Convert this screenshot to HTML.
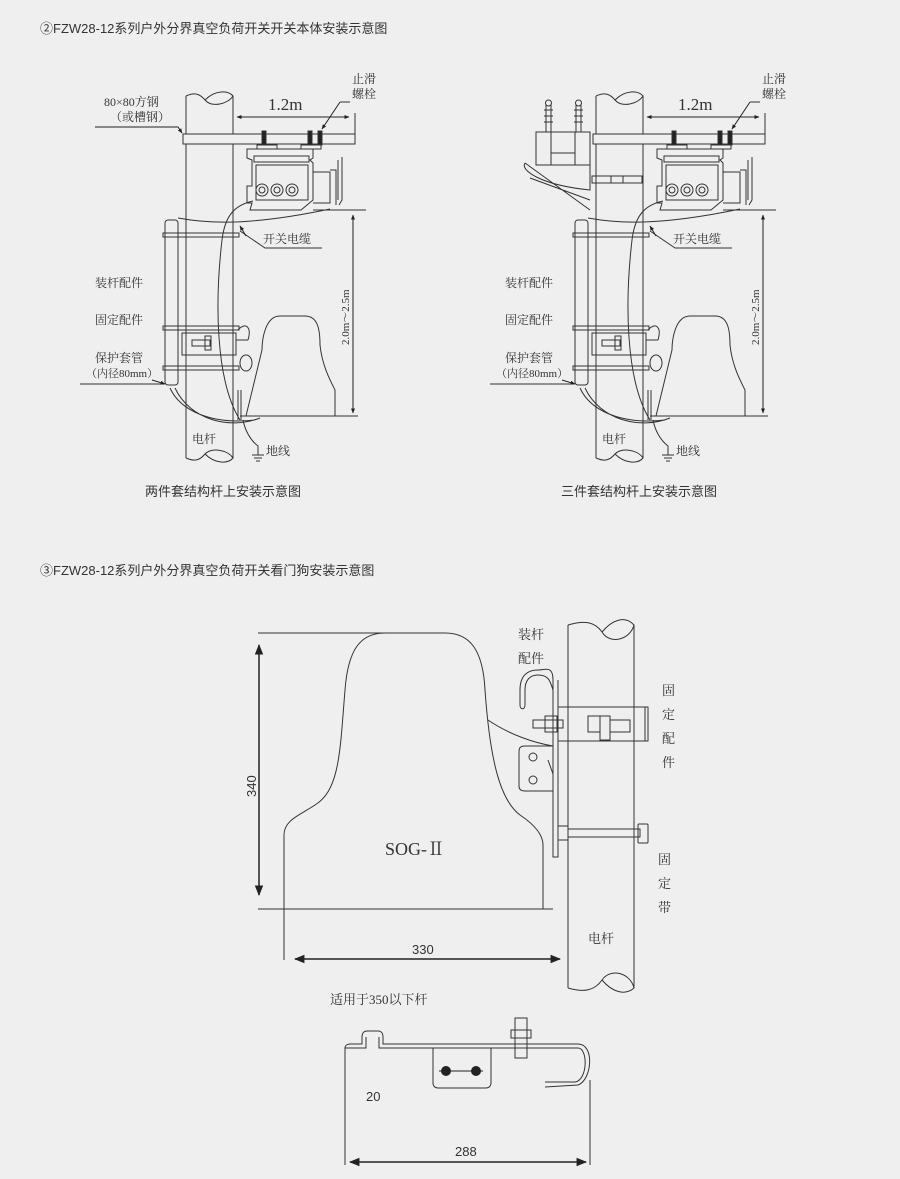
<!DOCTYPE html>
<html><head><meta charset="utf-8"><style>
html,body{margin:0;padding:0;background:#efefef;}
svg{display:block}
text{font-family:"Liberation Serif","Noto Serif CJK SC","Noto Sans CJK SC",serif;fill:#333}
text.s,.s text{font-family:"Liberation Sans","Noto Sans CJK SC",sans-serif}
</style></head><body>
<svg width="900" height="1179" viewBox="0 0 900 1179" xmlns="http://www.w3.org/2000/svg">
<defs>
<marker id="a" viewBox="0 0 10 10" refX="9" refY="5" markerWidth="7" markerHeight="7" orient="auto-start-reverse"><path d="M0,1 L10,5 L0,9z" fill="#222"/></marker>
<marker id="b" viewBox="0 0 10 10" refX="9" refY="5" markerWidth="5" markerHeight="5" orient="auto-start-reverse"><path d="M0,1 L10,5 L0,9z" fill="#222"/></marker>
<g id="unit" fill="none" stroke="#333" stroke-width="1">
  <path d="M186,96 L186,458 M233,96 L233,458"/>
  <path d="M186,96 C195,92 200,94 205,100 C212,108 228,104 233,96 C228,90 215,90 205,100" />
  <path d="M186,458 C195,462 200,460 205,454 C212,447 228,450 233,458 C228,464 215,464 205,454"/>
  <rect x="183" y="134" width="172" height="10" fill="#efefef"/>
  <path d="M237,117 L349,117" stroke="#222" marker-start="url(#b)" marker-end="url(#b)"/>
  <path d="M355,113 L355,134"/>
  <rect x="262" y="131" width="4" height="14" fill="#222"/>
  <rect x="308" y="131" width="4" height="14" fill="#222"/>
  <rect x="318" y="131" width="4" height="14" fill="#222"/>
  <path d="M340,102 L322,129" stroke="#222" marker-end="url(#b)"/>
  <path d="M340,102 L350,102"/>
  <rect x="257" y="145" width="20" height="4"/><rect x="301" y="145" width="20" height="4"/>
  <path d="M247,149 L313,149 L313,158 L310,160 L313,163 L313,200 L301,210 L250,210 L252,203 L247,203 L247,186 L252,186 L252,160 L247,158 Z"/>
  <rect x="254" y="156" width="55" height="6"/>
  <rect x="256" y="165" width="52" height="35"/>
  <circle cx="262" cy="190" r="6"/><circle cx="262" cy="190" r="3"/>
  <circle cx="277" cy="190" r="6"/><circle cx="277" cy="190" r="3"/>
  <circle cx="292" cy="190" r="6"/><circle cx="292" cy="190" r="3"/>
  <path d="M313,172 L330,172 L330,203 L313,203 M330,170 L336,170 L336,205 M338,160 L338,200 M342,157 L342,200 L339,205"/>
  <path d="M313,210 L366,210"/>
  <path d="M353,215 L353,413" stroke="#222" marker-start="url(#b)" marker-end="url(#b)"/>
  <path d="M240,416 L358,416"/>
  <path d="M253,201 C235,205 225,215 222,240 C215,300 215,380 240,420"/>
  <path d="M178,218 C200,222 240,228 330,209"/>
  <path d="M240,231 L265,248 L322,248" />
  <path d="M240,226 L246,236" stroke="#222" marker-start="url(#b)"/>
  <rect x="165" y="220" width="13" height="165" rx="3"/>
  <rect x="163" y="233" width="76" height="4"/>
  <rect x="163" y="326" width="76" height="4"/>
  <rect x="163" y="366" width="76" height="4"/>
  <rect x="182" y="333" width="54" height="22"/>
  <rect x="192" y="340" width="18" height="6"/><rect x="205" y="336" width="6" height="14"/>
  <path d="M236,340 L248,340 M238,330 C245,322 252,326 248,340"/>
  <ellipse cx="246" cy="363" rx="6" ry="8"/>
  <path d="M170,388 C180,410 210,425 255,420 M175,388 C190,420 230,430 260,418"/>
  <path d="M238,390 L238,420 M241,390 L241,420"/>
  <path d="M246,416 L262,350 C262,340 265,316 280,316 L305,316 C318,316 320,330 320,345 C322,365 330,380 335,390 L335,416"/>
  <path d="M243,420 C245,430 250,440 258,446 L258,455 M252,455 L264,455 M254,458 L262,458 M256,461 L260,461"/>
  <path d="M80,384 L164,384" /><path d="M152,380 L165,384" stroke="#222" marker-end="url(#b)"/>
</g>
</defs>

<text x="40" y="33" class="s" font-size="13">②FZW28-12系列户外分界真空负荷开关开关本体安装示意图</text>
<text x="40" y="575" class="s" font-size="13">③FZW28-12系列户外分界真空负荷开关看门狗安装示意图</text>

<use href="#unit"/>
<use href="#unit" transform="translate(410,0)"/>
<path d="M95,127 L178,127 L182,133" stroke="#222" fill="none" marker-end="url(#b)"/>

<g font-size="12">
<text x="104" y="106">80×80方钢</text>
<text x="110" y="121">（或槽钢）</text>
<text x="352" y="83">止滑</text><text x="352" y="98">螺栓</text>
<text x="268" y="110" font-size="17">1.2m</text>
<text x="263" y="243">开关电缆</text>
<text x="95" y="287">装杆配件</text>
<text x="95" y="324">固定配件</text>
<text x="95" y="362">保护套管</text>
<text x="86" y="377" font-size="11">（内径80mm）</text>
<text x="192" y="443">电杆</text>
<text x="266" y="455">地线</text>
<text transform="translate(349,345) rotate(-90)" font-size="11">2.0m～2.5m</text>
</g>
<g font-size="12" transform="translate(410,0)">
<text x="352" y="83">止滑</text><text x="352" y="98">螺栓</text>
<text x="268" y="110" font-size="17">1.2m</text>
<text x="263" y="243">开关电缆</text>
<text x="95" y="287">装杆配件</text>
<text x="95" y="324">固定配件</text>
<text x="95" y="362">保护套管</text>
<text x="86" y="377" font-size="11">（内径80mm）</text>
<text x="192" y="443">电杆</text>
<text x="266" y="455">地线</text>
<text transform="translate(349,345) rotate(-90)" font-size="11">2.0m～2.5m</text>
</g>
<g fill="none" stroke="#333">
<rect x="536" y="132" width="54" height="33" fill="#efefef"/>
<path d="M551,132 L551,165 M575,132 L575,165 M551,153 L575,153"/>
<path d="M546,132 L546,105 M551,132 L551,105 M576,132 L576,105 M581,132 L581,105"/>
<path d="M544,110 h9 M544,116 h9 M544,122 h9 M574,110 h9 M574,116 h9 M574,122 h9"/>
<circle cx="548.5" cy="103" r="3"/><circle cx="578.5" cy="103" r="3"/>
<path d="M525,163 C520,170 540,185 590,190 L590,165 L536,165"/>
<path d="M525,163 L590,210 M530,178 L590,200"/>
<rect x="592" y="176" width="50" height="7"/><rect x="611" y="176" width="12" height="7"/>
</g>

<g font-size="13" class="s">
<text x="145" y="496">两件套结构杆上安装示意图</text>
<text x="561" y="496">三件套结构杆上安装示意图</text>
</g>

<g fill="none" stroke="#333" stroke-width="1">
<path d="M284,960 L284,835 C284,820 300,815 315,805 C340,790 340,750 345,690 C348,650 360,633 385,633 L445,633 C470,633 483,650 485,690 C490,760 500,800 520,815 C535,825 543,835 543,845 L543,909"/>
<path d="M258,633 L385,633 M258,909 L553,909"/>
<path d="M259,645 L259,895" stroke="#222" stroke-width="1.5" marker-start="url(#a)" marker-end="url(#a)"/>
<path d="M295,959 L560,959" stroke="#222" stroke-width="1.5" marker-start="url(#a)" marker-end="url(#a)"/>
<path d="M568,625 L568,988 M634,625 L634,988"/>
<path d="M568,625 C585,620 595,622 602,632 C610,645 630,640 634,625 C625,615 612,620 602,632"/>
<path d="M568,988 C585,993 595,990 602,980 C610,968 630,972 634,988 C625,996 612,992 602,980"/>
<path d="M553,680 L553,857 L558,857 L558,680"/>
<path d="M553,680 C553,665 545,670 538,670 C528,670 520,675 520,690 L520,705 C520,710 525,710 525,705 L525,690 C525,680 530,675 538,675 C548,675 550,680 553,690"/>
<rect x="558" y="707" width="90" height="34"/>
<path d="M645,707 L645,741"/>
<rect x="533" y="720" width="30" height="8"/><rect x="545" y="716" width="12" height="16"/>
<rect x="588" y="716" width="12" height="16"/><rect x="600" y="716" width="10" height="24"/><rect x="610" y="720" width="20" height="12"/>
<path d="M488,720 C510,735 535,743 553,746"/>
<path d="M553,746 L525,746 C520,746 519,748 519,752 L519,786 C519,790 522,791 525,791 L553,791"/>
<circle cx="533" cy="757" r="4"/><circle cx="533" cy="780" r="4"/>
<path d="M548,760 L553,774"/>
<rect x="558" y="826" width="10" height="14"/>
<rect x="568" y="829" width="72" height="8"/>
<rect x="638" y="824" width="10" height="19" rx="1"/>
<path d="M345,1165 L345,1048 C345,1045 348,1044 350,1044 L362,1044 L362,1037 C362,1033 364,1031 367,1031 L378,1031 C381,1031 383,1033 383,1037 L383,1044 L578,1044 C595,1044 592,1080 578,1085 L545,1087"/>
<path d="M345,1048 L362,1048 L366,1048 L366,1037 M379,1037 L379,1048 L578,1048 C588,1048 588,1080 575,1082 L545,1082"/>
<path d="M433,1048 L433,1083 C433,1086 435,1088 438,1088 L486,1088 C489,1088 491,1086 491,1083 L491,1048"/>
<rect x="515" y="1018" width="12" height="40"/><rect x="511" y="1030" width="20" height="8"/>
<path d="M590,1080 L590,1165"/>
<path d="M350,1162 L586,1162" stroke="#222" stroke-width="1.5" marker-start="url(#a)" marker-end="url(#a)"/>
</g>
<circle cx="446" cy="1071" r="5" fill="#222"/><circle cx="476" cy="1071" r="5" fill="#222"/>
<path d="M439,1071 h35 M469,1071 h14" stroke="#222"/>

<g font-size="13">
<text x="518" y="639">装杆</text><text x="518" y="663">配件</text>
<text x="662" y="695">固</text><text x="662" y="719">定</text><text x="662" y="743">配</text><text x="662" y="767">件</text>
<text x="658" y="864">固</text><text x="658" y="888">定</text><text x="658" y="912">带</text>
<text x="588" y="943">电杆</text>
<text x="385" y="855" font-size="18">SOG-Ⅱ</text>
<text x="330" y="1004">适用于350以下杆</text>
</g>
<g class="s" font-size="13">
<text transform="translate(256,797) rotate(-90)">340</text>
<text x="412" y="954">330</text>
<text x="366" y="1101">20</text>
<text x="455" y="1156">288</text>
</g>
</svg>
</body></html>
